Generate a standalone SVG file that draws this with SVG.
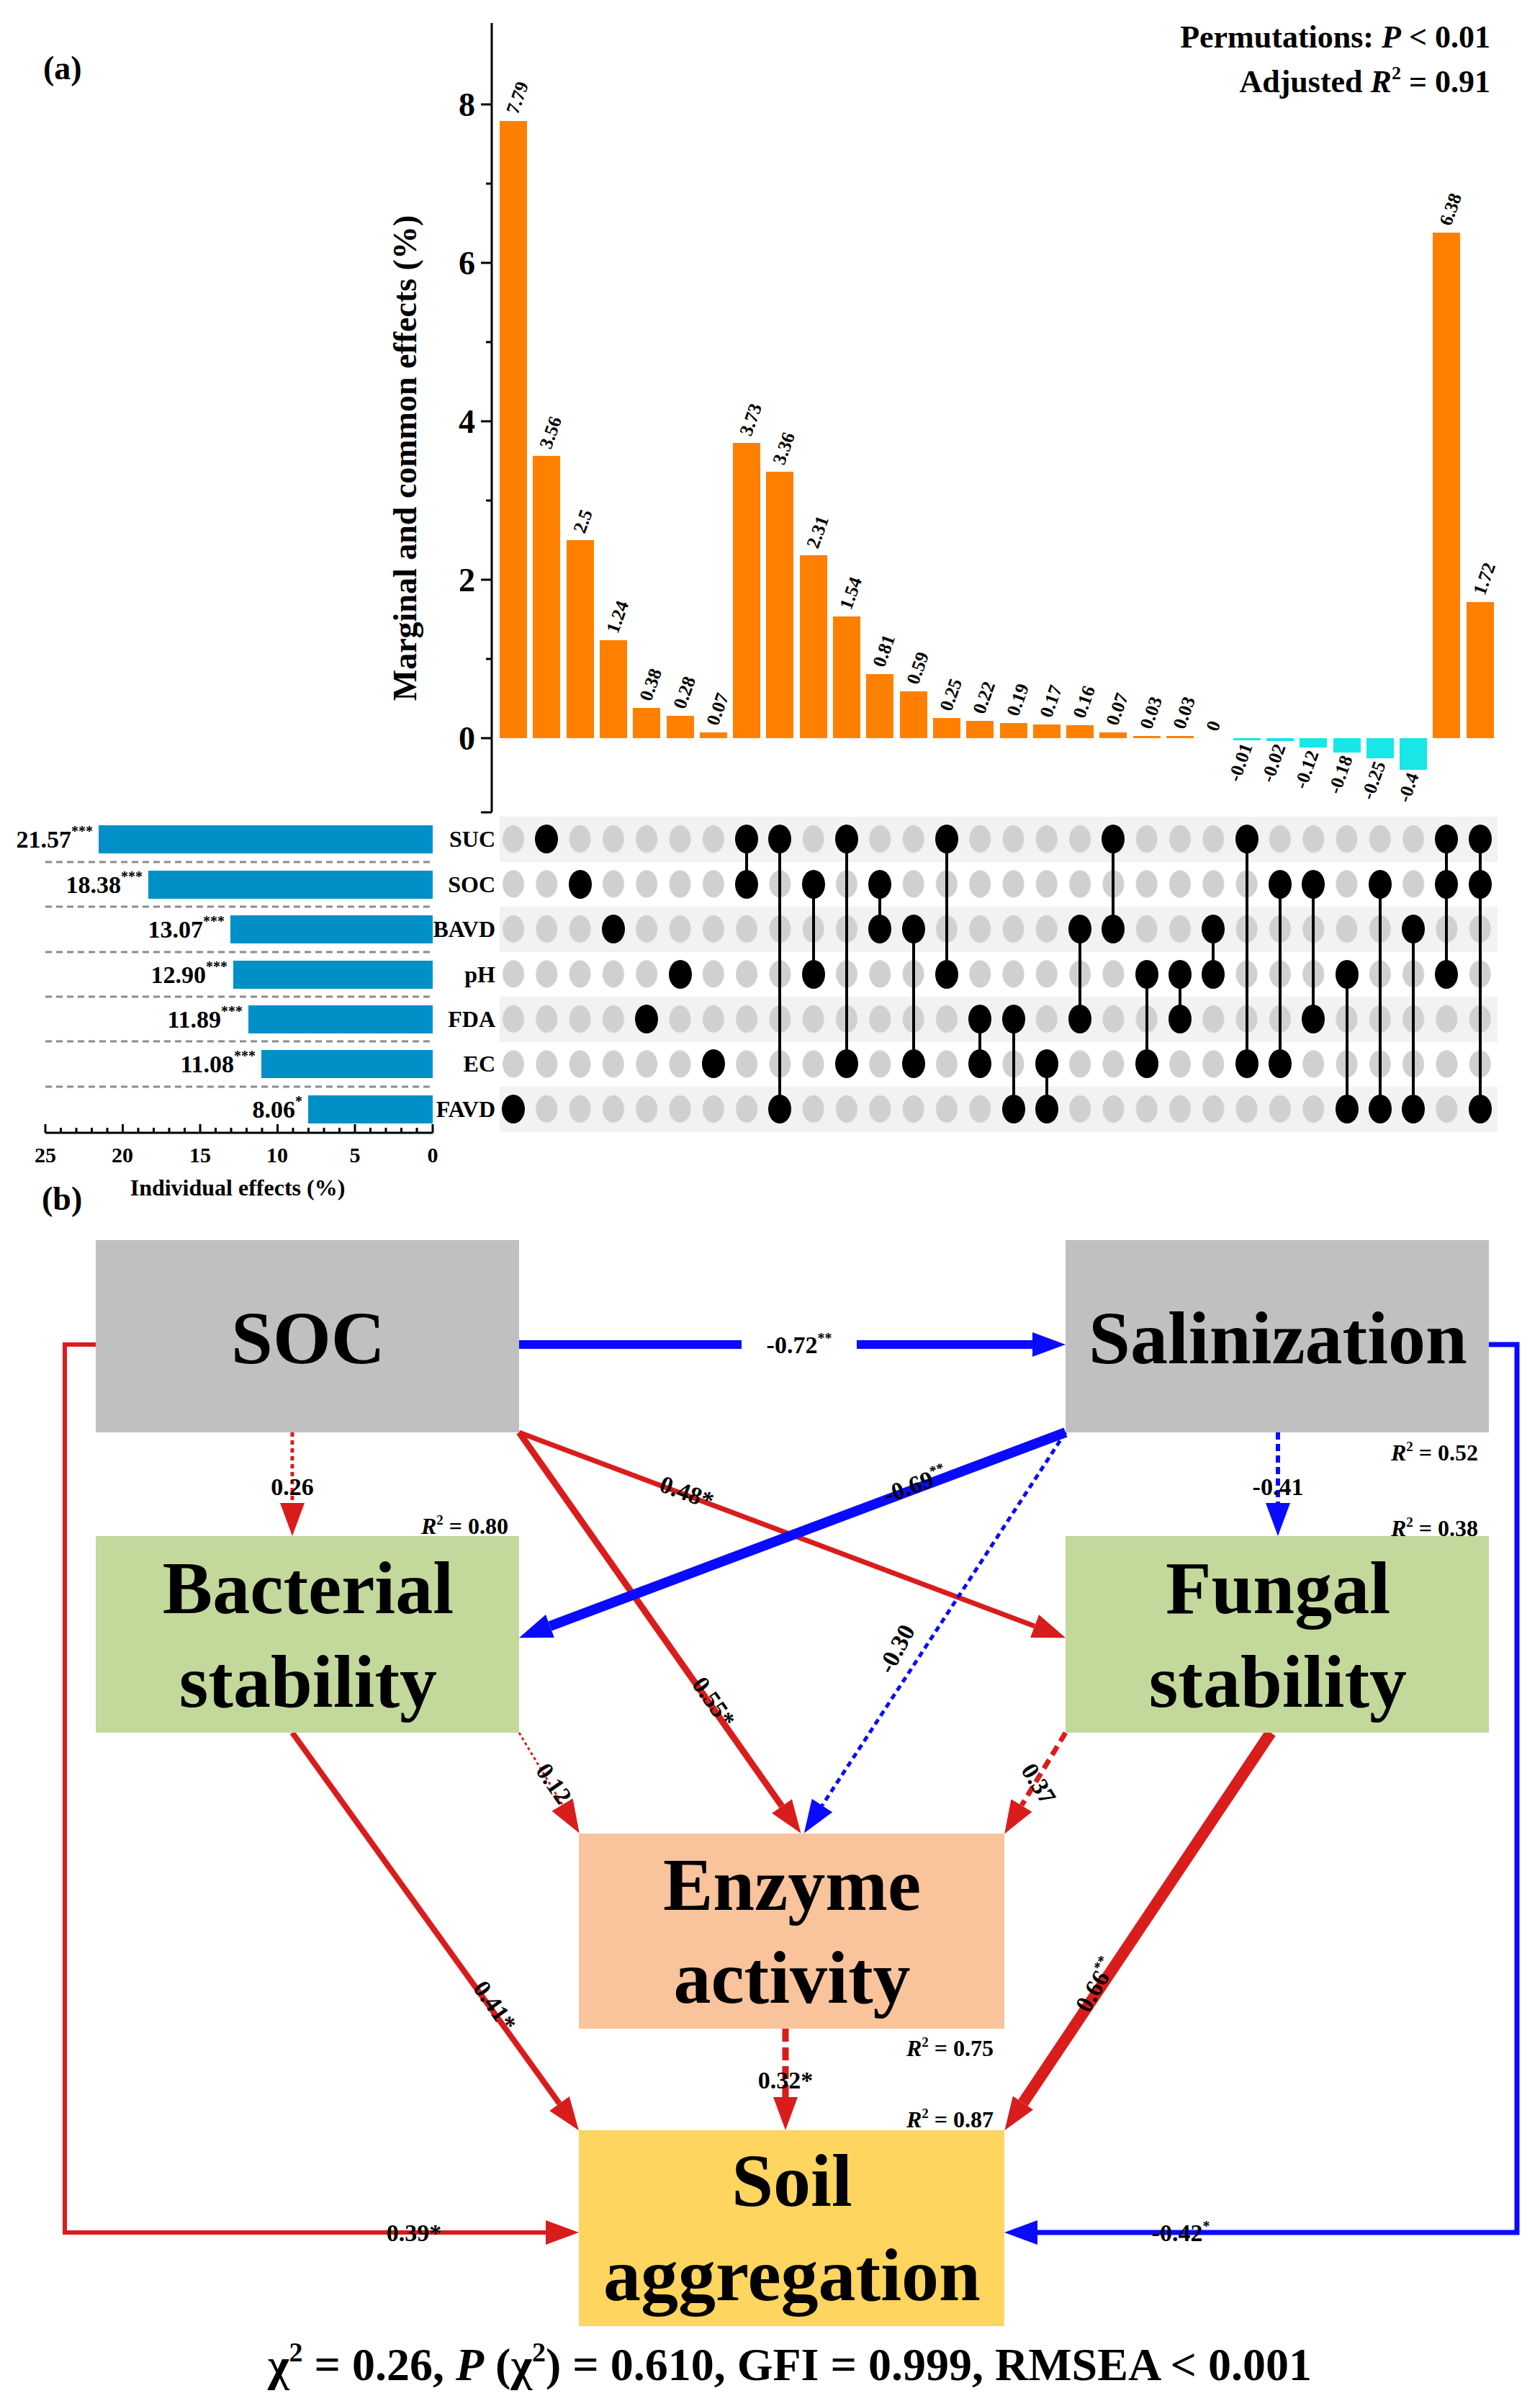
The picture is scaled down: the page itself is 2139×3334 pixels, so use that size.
<svg xmlns="http://www.w3.org/2000/svg" width="2139" height="3334" viewBox="0 0 2139 3334">
<style>
text{font-family:"Liberation Serif","Times New Roman",serif;font-weight:bold;fill:#000}
.bar{fill:#ff8000}.neg{fill:#19e6e6}.ib{fill:#0090c8}
.vl{font-size:26px}
.dk{fill:#000}
.cl{stroke:#000;stroke-width:4}
.band{fill:#f2f2f2}
.sep{stroke:#8c8c8c;stroke-width:3;stroke-dasharray:9,6}
.ax{stroke:#000;stroke-width:3;fill:none}
.big{font-size:104px;text-anchor:middle}
.el{font-size:34px;text-anchor:middle}
.r2{font-size:32px;text-anchor:end}
.red{stroke:#d91c1c;fill:none}
.blue{stroke:#0a0aff;fill:none}
</style>
<defs>
<pattern id="dots" x="690" y="1134" width="46.3" height="62.5" patternUnits="userSpaceOnUse">
<ellipse cx="23" cy="31" rx="15" ry="19" fill="#d0d0d0"/>
</pattern>
<marker id="ar" viewBox="0 -17 46 34" markerWidth="46" markerHeight="34" refX="0" refY="0" orient="auto" markerUnits="userSpaceOnUse"><path d="M0,-17 L46,0 L0,17 z" fill="#d91c1c"/></marker>
<marker id="ab" viewBox="0 -17 46 34" markerWidth="46" markerHeight="34" refX="0" refY="0" orient="auto" markerUnits="userSpaceOnUse"><path d="M0,-17 L46,0 L0,17 z" fill="#0a0aff"/></marker>
</defs>
<rect width="2139" height="3334" fill="#fff"/>

<g id="panel-a">
<text x="60" y="110" font-size="46">(a)</text>
<text x="2070" y="66" font-size="44" text-anchor="end">Permutations: <tspan font-style="italic">P</tspan> &lt; 0.01</text>
<text x="2070" y="128" font-size="44" text-anchor="end">Adjusted <tspan font-style="italic">R</tspan><tspan font-size="26" dy="-18">2</tspan><tspan dy="18"> = 0.91</tspan></text>
<!-- y axis -->
<path class="ax" d="M683,32 V1128 M683,1025 H668 M683,805 H668 M683,585 H668 M683,365 H668 M683,145 H668 M683,915 H675 M683,695 H675 M683,475 H675 M683,255 H675 M683,1128 H668"/>
<g font-size="46" text-anchor="end">
<text x="660" y="1041">0</text><text x="660" y="821">2</text><text x="660" y="601">4</text><text x="660" y="381">6</text><text x="660" y="161">8</text>
</g>
<text transform="translate(578,636) rotate(-90)" font-size="46" text-anchor="middle">Marginal and common effects (%)</text>
<!-- bars -->
<g>
<rect class="bar" x="694" y="168" width="38" height="857"/>
<rect class="bar" x="740" y="633" width="38" height="392"/>
<rect class="bar" x="787" y="750" width="38" height="275"/>
<rect class="bar" x="833" y="889" width="38" height="136"/>
<rect class="bar" x="879" y="983" width="38" height="42"/>
<rect class="bar" x="926" y="994" width="38" height="31"/>
<rect class="bar" x="972" y="1017" width="38" height="8"/>
<rect class="bar" x="1018" y="615" width="38" height="410"/>
<rect class="bar" x="1064" y="655" width="38" height="370"/>
<rect class="bar" x="1111" y="771" width="38" height="254"/>
<rect class="bar" x="1157" y="856" width="38" height="169"/>
<rect class="bar" x="1203" y="936" width="38" height="89"/>
<rect class="bar" x="1250" y="960" width="38" height="65"/>
<rect class="bar" x="1296" y="997" width="38" height="28"/>
<rect class="bar" x="1342" y="1001" width="38" height="24"/>
<rect class="bar" x="1389" y="1004" width="38" height="21"/>
<rect class="bar" x="1435" y="1006" width="38" height="19"/>
<rect class="bar" x="1481" y="1007" width="38" height="18"/>
<rect class="bar" x="1527" y="1017" width="38" height="8"/>
<rect class="bar" x="1574" y="1022" width="38" height="3"/>
<rect class="bar" x="1620" y="1022" width="38" height="3"/>
<rect class="neg" x="1713" y="1025" width="38" height="3"/>
<rect class="neg" x="1759" y="1025" width="38" height="4"/>
<rect class="neg" x="1805" y="1025" width="38" height="13"/>
<rect class="neg" x="1852" y="1025" width="38" height="20"/>
<rect class="neg" x="1898" y="1025" width="38" height="28"/>
<rect class="neg" x="1944" y="1025" width="38" height="44"/>
<rect class="bar" x="1990" y="323" width="38" height="702"/>
<rect class="bar" x="2037" y="836" width="38" height="189"/>
</g>
<g class="vl">
<text class="vl" transform="translate(719,160) rotate(-70)">7.79</text>
<text class="vl" transform="translate(765,625) rotate(-70)">3.56</text>
<text class="vl" transform="translate(812,742) rotate(-70)">2.5</text>
<text class="vl" transform="translate(858,881) rotate(-70)">1.24</text>
<text class="vl" transform="translate(904,975) rotate(-70)">0.38</text>
<text class="vl" transform="translate(951,986) rotate(-70)">0.28</text>
<text class="vl" transform="translate(997,1009) rotate(-70)">0.07</text>
<text class="vl" transform="translate(1043,607) rotate(-70)">3.73</text>
<text class="vl" transform="translate(1089,647) rotate(-70)">3.36</text>
<text class="vl" transform="translate(1136,763) rotate(-70)">2.31</text>
<text class="vl" transform="translate(1182,848) rotate(-70)">1.54</text>
<text class="vl" transform="translate(1228,928) rotate(-70)">0.81</text>
<text class="vl" transform="translate(1275,952) rotate(-70)">0.59</text>
<text class="vl" transform="translate(1321,989) rotate(-70)">0.25</text>
<text class="vl" transform="translate(1367,993) rotate(-70)">0.22</text>
<text class="vl" transform="translate(1414,996) rotate(-70)">0.19</text>
<text class="vl" transform="translate(1460,998) rotate(-70)">0.17</text>
<text class="vl" transform="translate(1506,999) rotate(-70)">0.16</text>
<text class="vl" transform="translate(1552,1009) rotate(-70)">0.07</text>
<text class="vl" transform="translate(1599,1014) rotate(-70)">0.03</text>
<text class="vl" transform="translate(1645,1014) rotate(-70)">0.03</text>
<text class="vl" transform="translate(1691,1017) rotate(-70)">0</text>
<text class="vl" text-anchor="end" transform="translate(1740,1036) rotate(-70)">-0.01</text>
<text class="vl" text-anchor="end" transform="translate(1786,1037) rotate(-70)">-0.02</text>
<text class="vl" text-anchor="end" transform="translate(1832,1046) rotate(-70)">-0.12</text>
<text class="vl" text-anchor="end" transform="translate(1879,1053) rotate(-70)">-0.18</text>
<text class="vl" text-anchor="end" transform="translate(1925,1061) rotate(-70)">-0.25</text>
<text class="vl" text-anchor="end" transform="translate(1971,1077) rotate(-70)">-0.4</text>
<text class="vl" transform="translate(2015,315) rotate(-70)">6.38</text>
<text class="vl" transform="translate(2062,828) rotate(-70)">1.72</text>
</g>
<!-- matrix -->
<rect class="band" x="694" y="1134" width="1386" height="63"/>
<rect class="band" x="694" y="1259" width="1386" height="63"/>
<rect class="band" x="694" y="1384" width="1386" height="63"/>
<rect class="band" x="694" y="1509" width="1386" height="63"/>
<rect x="690" y="1134" width="1389" height="437.5" fill="url(#dots)"/>
<g>
<path class="cl" d="M1037,1165V1228 M1083,1165V1540 M1130,1228V1353 M1176,1165V1477 M1222,1228V1290 M1269,1290V1477 M1315,1165V1353 M1361,1415V1477 M1408,1415V1540 M1454,1477V1540 M1500,1290V1415 M1546,1165V1290 M1593,1353V1477 M1639,1353V1415 M1685,1290V1353 M1732,1165V1477 M1778,1228V1477 M1824,1228V1415 M1871,1353V1540 M1917,1228V1540 M1963,1290V1540 M2009,1165V1353 M2056,1165V1540"/>
<g class="dk">
<ellipse cx="713" cy="1540" rx="16" ry="20"/>
<ellipse cx="759" cy="1165" rx="16" ry="20"/>
<ellipse cx="806" cy="1228" rx="16" ry="20"/>
<ellipse cx="852" cy="1290" rx="16" ry="20"/>
<ellipse cx="898" cy="1415" rx="16" ry="20"/>
<ellipse cx="945" cy="1353" rx="16" ry="20"/>
<ellipse cx="991" cy="1477" rx="16" ry="20"/>
<ellipse cx="1037" cy="1165" rx="16" ry="20"/><ellipse cx="1037" cy="1228" rx="16" ry="20"/>
<ellipse cx="1083" cy="1165" rx="16" ry="20"/><ellipse cx="1083" cy="1540" rx="16" ry="20"/>
<ellipse cx="1130" cy="1228" rx="16" ry="20"/><ellipse cx="1130" cy="1353" rx="16" ry="20"/>
<ellipse cx="1176" cy="1165" rx="16" ry="20"/><ellipse cx="1176" cy="1477" rx="16" ry="20"/>
<ellipse cx="1222" cy="1228" rx="16" ry="20"/><ellipse cx="1222" cy="1290" rx="16" ry="20"/>
<ellipse cx="1269" cy="1290" rx="16" ry="20"/><ellipse cx="1269" cy="1477" rx="16" ry="20"/>
<ellipse cx="1315" cy="1165" rx="16" ry="20"/><ellipse cx="1315" cy="1353" rx="16" ry="20"/>
<ellipse cx="1361" cy="1415" rx="16" ry="20"/><ellipse cx="1361" cy="1477" rx="16" ry="20"/>
<ellipse cx="1408" cy="1415" rx="16" ry="20"/><ellipse cx="1408" cy="1540" rx="16" ry="20"/>
<ellipse cx="1454" cy="1477" rx="16" ry="20"/><ellipse cx="1454" cy="1540" rx="16" ry="20"/>
<ellipse cx="1500" cy="1290" rx="16" ry="20"/><ellipse cx="1500" cy="1415" rx="16" ry="20"/>
<ellipse cx="1546" cy="1165" rx="16" ry="20"/><ellipse cx="1546" cy="1290" rx="16" ry="20"/>
<ellipse cx="1593" cy="1353" rx="16" ry="20"/><ellipse cx="1593" cy="1477" rx="16" ry="20"/>
<ellipse cx="1639" cy="1353" rx="16" ry="20"/><ellipse cx="1639" cy="1415" rx="16" ry="20"/>
<ellipse cx="1685" cy="1290" rx="16" ry="20"/><ellipse cx="1685" cy="1353" rx="16" ry="20"/>
<ellipse cx="1732" cy="1165" rx="16" ry="20"/><ellipse cx="1732" cy="1477" rx="16" ry="20"/>
<ellipse cx="1778" cy="1228" rx="16" ry="20"/><ellipse cx="1778" cy="1477" rx="16" ry="20"/>
<ellipse cx="1824" cy="1228" rx="16" ry="20"/><ellipse cx="1824" cy="1415" rx="16" ry="20"/>
<ellipse cx="1871" cy="1353" rx="16" ry="20"/><ellipse cx="1871" cy="1540" rx="16" ry="20"/>
<ellipse cx="1917" cy="1228" rx="16" ry="20"/><ellipse cx="1917" cy="1540" rx="16" ry="20"/>
<ellipse cx="1963" cy="1290" rx="16" ry="20"/><ellipse cx="1963" cy="1540" rx="16" ry="20"/>
<ellipse cx="2009" cy="1165" rx="16" ry="20"/><ellipse cx="2009" cy="1228" rx="16" ry="20"/><ellipse cx="2009" cy="1353" rx="16" ry="20"/>
<ellipse cx="2056" cy="1165" rx="16" ry="20"/><ellipse cx="2056" cy="1228" rx="16" ry="20"/><ellipse cx="2056" cy="1540" rx="16" ry="20"/>
</g>
</g>
<g font-size="32" text-anchor="end">
<text x="688" y="1176">SUC</text><text x="688" y="1239">SOC</text><text x="688" y="1301">BAVD</text><text x="688" y="1364">pH</text><text x="688" y="1426">FDA</text><text x="688" y="1488">EC</text><text x="688" y="1551">FAVD</text>
</g>
<!-- individual effects -->
<path class="sep" d="M63,1197H601 M63,1259H601 M63,1322H601 M63,1384H601 M63,1446H601 M63,1509H601"/>
<rect class="ib" x="137" y="1146" width="464" height="39"/>
<rect class="ib" x="206" y="1209" width="395" height="39"/>
<rect class="ib" x="320" y="1271" width="281" height="39"/>
<rect class="ib" x="324" y="1334" width="277" height="39"/>
<rect class="ib" x="345" y="1396" width="256" height="39"/>
<rect class="ib" x="363" y="1458" width="238" height="39"/>
<rect class="ib" x="428" y="1521" width="173" height="39"/>
<g font-size="34" text-anchor="end">
<text x="129" y="1177">21.57<tspan font-size="20" dy="-16">***</tspan></text>
<text x="198" y="1240">18.38<tspan font-size="20" dy="-16">***</tspan></text>
<text x="312" y="1302">13.07<tspan font-size="20" dy="-16">***</tspan></text>
<text x="316" y="1365">12.90<tspan font-size="20" dy="-16">***</tspan></text>
<text x="337" y="1427">11.89<tspan font-size="20" dy="-16">***</tspan></text>
<text x="355" y="1489">11.08<tspan font-size="20" dy="-16">***</tspan></text>
<text x="420" y="1552">8.06<tspan font-size="20" dy="-16">*</tspan></text>
</g>
<path class="ax" d="M63,1573H601 M63,1573V1561 M170.5,1573V1561 M278,1573V1561 M385.5,1573V1561 M493,1573V1561 M601,1573V1561 M84.5,1573V1566 M106,1573V1566 M127.5,1573V1566 M149,1573V1566 M192,1573V1566 M213.5,1573V1566 M235,1573V1566 M256.5,1573V1566 M299.5,1573V1566 M321,1573V1566 M342.5,1573V1566 M364,1573V1566 M407,1573V1566 M428.5,1573V1566 M450,1573V1566 M471.5,1573V1566 M514.5,1573V1566 M536,1573V1566 M557.5,1573V1566 M579,1573V1566"/>
<g font-size="30" text-anchor="middle">
<text x="63" y="1614">25</text><text x="170" y="1614">20</text><text x="278" y="1614">15</text><text x="385" y="1614">10</text><text x="493" y="1614">5</text><text x="601" y="1614">0</text>
</g>
<text x="330" y="1660" font-size="32" text-anchor="middle">Individual effects (%)</text>
</g>

<g id="panel-b-label"><text x="58" y="1680" font-size="46">(b)</text></g>

<g id="connectors">
<path class="blue" stroke-width="12" d="M721,1867H1434" marker-end="url(#ab)"/>
<path class="red" stroke-width="5" stroke-dasharray="6,5" d="M406,1989V2087" marker-end="url(#ar)"/>
<path class="red" stroke-width="7" d="M721,1989L1437,2258" marker-end="url(#ar)"/>
<path class="red" stroke-width="9" d="M721,1989L1086,2508" marker-end="url(#ar)"/>
<path class="blue" stroke-width="14" d="M1480,1989L764,2258" marker-end="url(#ab)"/>
<path class="blue" stroke-width="5" stroke-dasharray="8,6" d="M1480,1989L1142,2507" marker-end="url(#ab)"/>
<path class="blue" stroke-width="6" stroke-dasharray="10,6" d="M1775,1989V2087" marker-end="url(#ab)"/>
<path class="blue" stroke-width="7" d="M2068,1867H2107V3100H1441" marker-end="url(#ab)"/>
<path class="red" stroke-width="6" d="M133,1867H90V3100H758" marker-end="url(#ar)"/>
<path class="red" stroke-width="3" stroke-dasharray="4,4" d="M721,2406L781,2506" marker-end="url(#ar)"/>
<path class="red" stroke-width="7" stroke-dasharray="14,8" d="M1480,2406L1419,2507" marker-end="url(#ar)"/>
<path class="red" stroke-width="8" d="M406,2406L777,2921" marker-end="url(#ar)"/>
<path class="red" stroke-width="16" d="M1765,2406L1421,2920" marker-end="url(#ar)"/>
<path class="red" stroke-width="9" stroke-dasharray="18,8" d="M1091,2817V2912" marker-end="url(#ar)"/>
<rect x="1030" y="1840" width="160" height="54" fill="#fff"/>
<g class="el">
<text x="1110" y="1879">-0.72<tspan font-size="20" dy="-14">**</tspan></text>
<text x="406" y="2076">0.26</text>
<text transform="translate(950,2083) rotate(20)">0.48*</text>
<text transform="translate(982,2370) rotate(55)">0.55*</text>
<text transform="translate(1275,2072) rotate(-20)">-0.69<tspan font-size="20" dy="-14">**</tspan></text>
<text transform="translate(1255,2295) rotate(-62)">-0.30</text>
<text x="1775" y="2076">-0.41</text>
<text x="1640" y="3112">-0.42<tspan font-size="20" dy="-14">*</tspan></text>
<text x="575" y="3112">0.39*</text>
<text transform="translate(760,2483) rotate(55)">0.12</text>
<text transform="translate(1433,2483) rotate(58)">0.37</text>
<text transform="translate(678,2792) rotate(55)">0.41*</text>
<text transform="translate(1532,2762) rotate(-60)">0.66<tspan font-size="20" dy="-14">**</tspan></text>
<text x="1091" y="2900">0.32*</text>
</g>
</g>

<g id="node-soc">
<rect x="133" y="1722" width="588" height="267" fill="#c0c0c0"/>
<text class="big" x="428" y="1893">SOC</text>
</g>
<g id="node-salinization">
<rect x="1480" y="1722" width="588" height="267" fill="#c0c0c0"/>
<text class="big" x="1775" y="1893">Salinization</text>
<text class="r2" x="2053" y="2028"><tspan font-style="italic">R</tspan><tspan font-size="19" dy="-13">2</tspan><tspan dy="13"> = 0.52</tspan></text>
</g>
<g id="node-bacterial">
<rect x="133" y="2133" width="588" height="273" fill="#c3d89b"/>
<text class="big" x="428" y="2240">Bacterial</text>
<text class="big" x="428" y="2370">stability</text>
<text class="r2" x="706" y="2130"><tspan font-style="italic">R</tspan><tspan font-size="19" dy="-13">2</tspan><tspan dy="13"> = 0.80</tspan></text>
</g>
<g id="node-fungal">
<rect x="1480" y="2133" width="588" height="273" fill="#c3d89b"/>
<text class="big" x="1775" y="2240">Fungal</text>
<text class="big" x="1775" y="2370">stability</text>
<text class="r2" x="2053" y="2133"><tspan font-style="italic">R</tspan><tspan font-size="19" dy="-13">2</tspan><tspan dy="13"> = 0.38</tspan></text>
</g>
<g id="node-enzyme">
<rect x="804" y="2546" width="591" height="271" fill="#f9c39c"/>
<text class="big" x="1100" y="2652">Enzyme</text>
<text class="big" x="1100" y="2781">activity</text>
<text class="r2" x="1380" y="2855"><tspan font-style="italic">R</tspan><tspan font-size="19" dy="-13">2</tspan><tspan dy="13"> = 0.75</tspan></text>
</g>
<g id="node-soil">
<rect x="804" y="2958" width="591" height="272" fill="#fdd55f"/>
<text class="big" x="1100" y="3063">Soil</text>
<text class="big" x="1100" y="3194">aggregation</text>
<text class="r2" x="1380" y="2954"><tspan font-style="italic">R</tspan><tspan font-size="19" dy="-13">2</tspan><tspan dy="13"> = 0.87</tspan></text>
</g>
<text x="1097" y="3305" font-size="64" text-anchor="middle">χ<tspan font-size="38" dy="-26">2</tspan><tspan dy="26"> = 0.26, </tspan><tspan font-style="italic">P</tspan> (χ<tspan font-size="38" dy="-26">2</tspan><tspan dy="26">) = 0.610,  GFI = 0.999, RMSEA &lt; 0.001</tspan></text>
</svg>
